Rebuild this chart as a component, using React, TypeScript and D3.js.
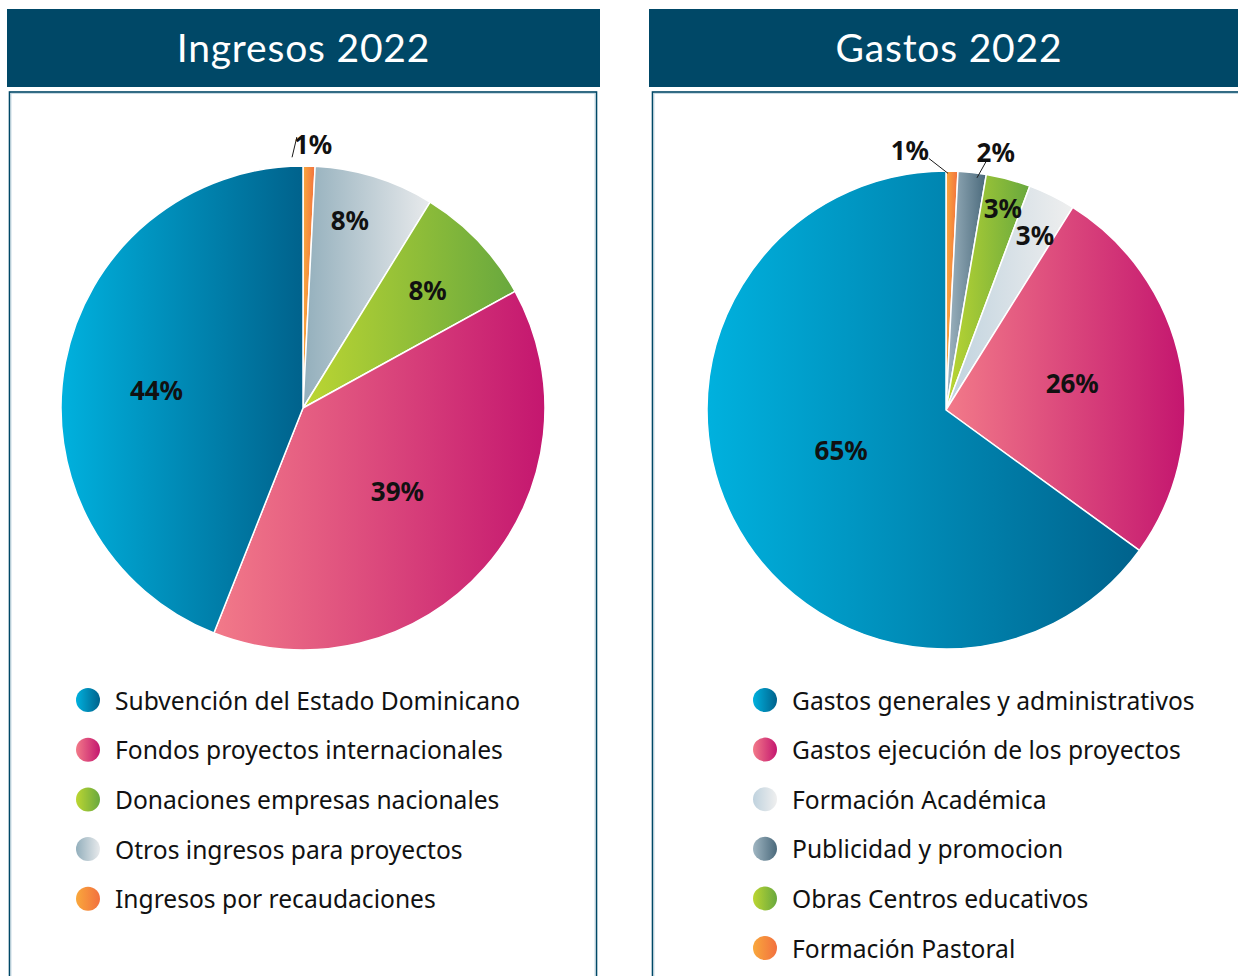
import React from "react";
import * as d3 from "d3";

// ---------- DATA ----------
const ingresosTitle = "Ingresos 2022";
const ingresosCategories = [
  "Subvención del Estado Dominicano",
  "Fondos proyectos internacionales",
  "Donaciones empresas nacionales",
  "Otros ingresos para proyectos",
  "Ingresos por recaudaciones",
];
const ingresosValues = [44, 39, 8.2, 8.0, 0.8];
const ingresosLabels = ["44%", "39%", "8%", "8%", "1%"];
const ingresosPieOrder = [4, 3, 2, 1, 0]; // clockwise from 12 o'clock

const gastosTitle = "Gastos 2022";
const gastosCategories = [
  "Gastos generales y administrativos",
  "Gastos ejecución de los proyectos",
  "Formación Académica",
  "Publicidad y promocion",
  "Obras Centros educativos",
  "Formación Pastoral",
];
const gastosValues = [65.0, 26.1, 3.2, 1.9, 3.0, 0.8];
const gastosLabels = ["65%", "26%", "3%", "2%", "3%", "1%"];
const gastosPieOrder = [5, 3, 4, 2, 1, 0];

// ---------- STYLES ----------
const gradients: Record<string, [string, string]> = {
  blue: ["#00B1DE", "#00628C"],
  pink: ["#F27A89", "#C4166F"],
  green: ["#BCD632", "#68A83E"],
  greyA: ["#93AFBC", "#E8EAEC"],
  greyB: ["#BFD2DE", "#EFEFEF"],
  greyDark: ["#A0B6C2", "#4A697B"],
  orange: ["#F9A83C", "#F2703F"],
};
const ingresosColors = ["blue", "pink", "green", "greyA", "orange"];
const gastosColors = ["blue", "pink", "greyB", "greyDark", "green", "orange"];

type LabelPos = { a: number; r: number; leader?: [number, number, number, number] };
// label layout, indexed like categories: angle (deg, clockwise from top), radius fraction
const ingresosLabelPos: LabelPos[] = [
  { a: 277, r: 0.61 },
  { a: 131.4, r: 0.52 },
  { a: 46.5, r: 0.71 },
  { a: 14.0, r: 0.8 },
  { a: 2.2, r: 1.09, leader: [-2.5, 1.037, -1.3, 1.12] },
];
const gastosLabelPos: LabelPos[] = [
  { a: 249, r: 0.47 },
  { a: 78, r: 0.54 },
  { a: 27, r: 0.82 },
  { a: 10.9, r: 1.1, leader: [7.6, 0.98, 9.3, 1.06] },
  { a: 15.7, r: 0.88 },
  { a: -7.9, r: 1.1, leader: [0.5, 0.99, -3.9, 1.055] },
];

const HEADER = "#004867";
const W = 1238;
const H = 976;

function polar(cx: number, cy: number, deg: number, r: number): [number, number] {
  const t = (deg * Math.PI) / 180;
  return [cx + r * Math.sin(t), cy - r * Math.cos(t)];
}

type PanelProps = {
  id: string;
  title: string;
  categories: string[];
  values: number[];
  labels: string[];
  order: number[];
  colors: string[];
  labelPos: LabelPos[];
  headerX: number;
  headerW: number;
  boxX: number;
  boxW: number;
  cx: number;
  cy: number;
  radius: number;
  legendX: number;
  legendY0: number;
  legendStep: number;
};

function Panel(p: PanelProps) {
  const ordered = p.order.map((i) => ({ i, v: p.values[i] }));
  const pie = d3
    .pie<{ i: number; v: number }>()
    .sort(null)
    .value((d) => d.v)
    .startAngle(0)
    .endAngle(2 * Math.PI);
  const arcs = pie(ordered);
  const arc = d3.arc<d3.PieArcDatum<{ i: number; v: number }>>().innerRadius(0).outerRadius(p.radius);
  const legendY = d3
    .scalePoint<number>()
    .domain(p.categories.map((_, i) => i))
    .range([p.legendY0, p.legendY0 + p.legendStep * (p.categories.length - 1)]);
  const titleCx = p.headerX + p.headerW / 2;
  return (
    <g>
      <rect x={p.headerX} y={9} width={p.headerW} height={78} fill={HEADER} />
      <text
        x={titleCx}
        y={46.5}
        textAnchor="middle"
        dominantBaseline="central"
        fill="#ffffff"
        fontFamily="Lato, 'Open Sans', sans-serif"
        fontWeight={400}
        fontSize={39}
        letterSpacing={0.8}
      >
        {p.title}
      </text>
      <rect x={p.boxX} y={92} width={p.boxW} height={H} fill="none" stroke={HEADER} strokeWidth={1.6} />
      <rect x={p.boxX + 1.5} y={93.5} width={p.boxW - 3} height={H} fill="none" stroke="#bcd3de" strokeWidth={0.8} />
      <g transform={`translate(${p.cx},${p.cy})`}>
        {arcs.map((a) => (
          <path
            key={a.data.i}
            d={arc(a) || ""}
            fill={`url(#${p.id}-g-${a.data.i})`}
            stroke="#ffffff"
            strokeWidth={1.5}
            strokeLinejoin="round"
          />
        ))}
      </g>
      {p.categories.map((_, i) => {
        const lp = p.labelPos[i];
        const [x, y] = polar(p.cx, p.cy, lp.a, lp.r * p.radius);
        let leader = null;
        if (lp.leader) {
          const [x1, y1] = polar(p.cx, p.cy, lp.leader[0], lp.leader[1] * p.radius);
          const [x2, y2] = polar(p.cx, p.cy, lp.leader[2], lp.leader[3] * p.radius);
          leader = <line x1={x1} y1={y1} x2={x2} y2={y2} stroke="#1a1a1a" strokeWidth={1} />;
        }
        return (
          <g key={"l" + i}>
            {leader}
            <text
              x={x}
              y={y}
              textAnchor="middle"
              dominantBaseline="central"
              fontFamily="'Noto Sans', 'Open Sans', sans-serif"
              fontWeight={700}
              fontSize={26}
              fill="#111111"
            >
              {p.labels[i]}
            </text>
          </g>
        );
      })}
      {p.categories.map((c, i) => {
        const y = legendY(i) as number;
        return (
          <g key={"lg" + i}>
            <circle cx={p.legendX} cy={y} r={12} fill={`url(#${p.id}-g-${i})`} />
            <text
              x={p.legendX + 27}
              y={y}
              dominantBaseline="central"
              fontFamily="'Noto Sans', 'Open Sans', sans-serif"
              fontSize={24.6}
              fill="#111111"
            >
              {c}
            </text>
          </g>
        );
      })}
    </g>
  );
}

function Defs({ id, colors }: { id: string; colors: string[] }) {
  return (
    <>
      {colors.map((c, i) => (
        <linearGradient key={i} id={`${id}-g-${i}`} x1="0" y1="0" x2="1" y2="0">
          <stop offset="0" stopColor={gradients[c][0]} />
          <stop offset="1" stopColor={gradients[c][1]} />
        </linearGradient>
      ))}
    </>
  );
}

export default function App() {
  return (
    <svg
      width={W}
      height={H}
      viewBox={`0 0 ${W} ${H}`}
      style={{ position: "absolute", left: 0, top: 0, background: "#ffffff" }}
    >
      <defs>
        <Defs id="ing" colors={ingresosColors} />
        <Defs id="gas" colors={gastosColors} />
      </defs>
      <rect x={0} y={0} width={W} height={H} fill="#ffffff" />
      <Panel
        id="ing"
        title={ingresosTitle}
        categories={ingresosCategories}
        values={ingresosValues}
        labels={ingresosLabels}
        order={ingresosPieOrder}
        colors={ingresosColors}
        labelPos={ingresosLabelPos}
        headerX={7}
        headerW={593}
        boxX={9.5}
        boxW={587}
        cx={303}
        cy={408}
        radius={242}
        legendX={88}
        legendY0={700}
        legendStep={49.7}
      />
      <Panel
        id="gas"
        title={gastosTitle}
        categories={gastosCategories}
        values={gastosValues}
        labels={gastosLabels}
        order={gastosPieOrder}
        colors={gastosColors}
        labelPos={gastosLabelPos}
        headerX={649}
        headerW={600}
        boxX={652.5}
        boxW={600}
        cx={946}
        cy={410}
        radius={239}
        legendX={765}
        legendY0={700}
        legendStep={49.6}
      />
    </svg>
  );
}
